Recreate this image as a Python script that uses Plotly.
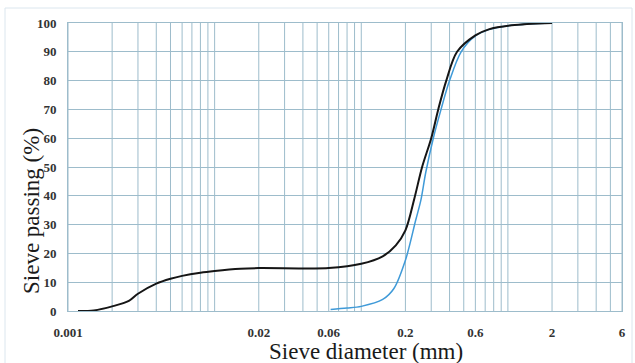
import plotly.graph_objects as go

# ---- data ----
black_d = [0.00117, 0.0015, 0.002, 0.0026, 0.003, 0.004, 0.005, 0.006, 0.008, 0.01,
           0.015, 0.02, 0.04, 0.06, 0.1, 0.14, 0.172, 0.2, 0.23, 0.26, 0.3, 0.335,
           0.38, 0.45, 0.6, 0.74, 1.06, 2.0]
black_p = [0, 0.2, 1.6, 3.5, 6.0, 9.5, 11.2, 12.2, 13.3, 13.9,
           14.7, 14.9, 14.8, 14.9, 16.4, 19.0, 22.8, 28.0, 39, 50, 60, 70,
           80, 90, 95.7, 97.8, 99.2, 100]

blue_d = [0.0618, 0.08, 0.1, 0.14, 0.167, 0.2, 0.235, 0.255, 0.275, 0.31, 0.35,
          0.4, 0.48, 0.6, 0.74, 1.06, 2.0]
blue_p = [0.5, 1.0, 1.6, 4.0, 7.8, 17.6, 31.5, 38.5, 48, 60, 70,
          80, 90, 95.5, 97.7, 99.2, 100]

x_tick_vals = [0.001, 0.02, 0.06, 0.2, 0.6, 2, 6]
x_tick_text = ["0.001", "0.02", "0.06", "0.2", "0.6", "2", "6"]
y_tick_vals = [0, 10, 20, 30, 40, 50, 60, 70, 80, 90, 100]
y_tick_text = ["0", "10", "20", "30", "40", "50", "60", "70", "80", "90", "100"]

# ---- layout geometry (pixels) ----
W, H = 635, 363
L, R, T, B = 68, 13, 23, 52
pw, ph = W - L - R, H - T - B

def px_x(p):
    return (p - L) / pw

def px_y(p):
    return (H - B - p) / ph

grid_color = "#9dbccb"
tick_font = dict(family="Liberation Serif", size=13, color="#333333")

fig = go.Figure()

# minor/major vertical grid as shapes (1..9 per decade)
grid_x = []
for dec in [0.001, 0.01, 0.1, 1]:
    for k in range(1, 10):
        v = round(dec * k, 6)
        if 0.001 <= v <= 6:
            grid_x.append(v)
for v in grid_x:
    fig.add_shape(type="line", xref="x", yref="paper", x0=v, x1=v, y0=0, y1=1,
                  line=dict(color=grid_color, width=1), layer="below")

fig.add_trace(go.Scatter(x=blue_d, y=blue_p, mode="lines",
                         line=dict(color="#3f9ad8", width=1.5, shape="spline", smoothing=0.9),
                         showlegend=False, hoverinfo="skip"))
fig.add_trace(go.Scatter(x=black_d, y=black_p, mode="lines",
                         line=dict(color="#151515", width=2, shape="spline", smoothing=0.9),
                         showlegend=False, hoverinfo="skip"))

fig.update_xaxes(type="log", range=[-3, 0.77815], tickmode="array",
                 tickvals=x_tick_vals, ticktext=["<b>%s</b>" % t for t in x_tick_text],
                 showgrid=False,
                 zeroline=False, showline=True, mirror=True, linecolor=grid_color,
                 linewidth=1, ticks="", tickfont=tick_font, ticklabelstandoff=9,
                 automargin=False)
fig.update_yaxes(range=[0, 100], tickmode="array", tickvals=y_tick_vals,
                 ticktext=["<b>%s</b>" % t for t in y_tick_text],
                 showgrid=True, gridcolor=grid_color, gridwidth=1, zeroline=False,
                 showline=True, mirror=True, linecolor=grid_color, linewidth=1,
                 ticks="", tickfont=tick_font, ticklabelstandoff=8,
                 automargin=False)

# faint outer frame
fig.add_shape(type="rect", xref="paper", yref="paper",
              x0=px_x(5), x1=px_x(632), y0=px_y(375), y1=px_y(8),
              line=dict(color="#dbe6ee", width=1), layer="below")

fig.add_annotation(text="Sieve diameter (mm)", xref="paper", yref="paper",
                   x=px_x(366), y=px_y(351), showarrow=False,
                   xanchor="center", yanchor="middle",
                   font=dict(family="Liberation Serif", size=23, color="#1a1a1a"))
fig.add_annotation(text="Sieve passing (%)", xref="paper", yref="paper",
                   x=px_x(31), y=px_y(211), showarrow=False, textangle=-90,
                   xanchor="center", yanchor="middle",
                   font=dict(family="Liberation Serif", size=23, color="#1a1a1a"))

fig.update_layout(width=W, height=H, margin=dict(l=L, r=R, t=T, b=B),
                  paper_bgcolor="white", plot_bgcolor="white")

fig.write_html("out.html", config={"displayModeBar": False},
               post_script="document.body.style.margin='0';document.body.style.overflow='hidden';")
